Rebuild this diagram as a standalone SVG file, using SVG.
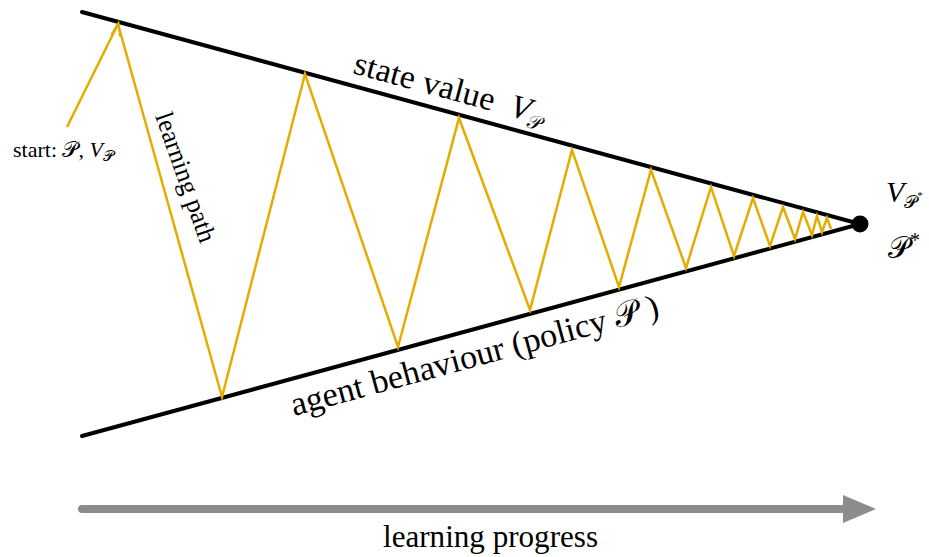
<svg xmlns="http://www.w3.org/2000/svg" width="929" height="557" viewBox="0 0 929 557">
<style>
text{font-family:"Liberation Serif","DejaVu Serif",serif;fill:#000}
.bound{stroke:#000;stroke-width:4;stroke-linecap:round;fill:none}
.path{stroke:#E5AC00;stroke-width:2.5;fill:none;stroke-linejoin:miter}
</style>
<rect width="929" height="557" fill="#fff"/>
<g id="connectors">
<line class="bound" x1="82" y1="12" x2="860" y2="224"/>
<line class="bound" x1="82" y1="436" x2="860" y2="224"/>
<polyline class="path" points="118,24 222,397 305,74 398,347 459,118 530,310 572,150 619,287 651,170 686,268 711,187 734,256 753,198 770,246 783,207 795,239 803,212 812,235 817,216 822,232 827,218 831,229"/>
<line x1="67" y1="127" x2="118" y2="24" stroke="#E5AC00" stroke-width="2.5"/>
<path d="M111.5,34.5 L118.5,23 L120,36.5" fill="none" stroke="#E5AC00" stroke-width="2"/>
<line x1="82" y1="509" x2="848" y2="509" stroke="#8C8C8C" stroke-width="8" stroke-linecap="round"/>
<polygon points="843,495 876,509 843,523" fill="#8C8C8C"/>
</g>
<g id="optimum">
<circle cx="860" cy="224" r="8.5" fill="#000"/>
<text x="886" y="202" font-size="30"><tspan font-style="italic">V</tspan><tspan font-size="18" dy="6">𝒫</tspan><tspan font-size="11" dy="-9">*</tspan></text>
<text x="888" y="258" font-size="30">𝒫<tspan font-size="20" dy="-11">*</tspan></text>
</g>
<g id="start">
<text x="13" y="157" font-size="22">start: 𝒫, <tspan font-style="italic">V</tspan><tspan font-size="15" dy="4">𝒫</tspan></text>
</g>
<g id="learning-path">
<text font-size="26" transform="translate(155,116) rotate(70.5)" textLength="136" lengthAdjust="spacingAndGlyphs">learning path</text>
</g>
<g id="state-value" transform="translate(352,73) rotate(15.2)">
<text x="0" y="0" font-size="33" textLength="145" lengthAdjust="spacingAndGlyphs">state value</text>
<text x="162" y="0" font-size="33"><tspan font-style="italic">V</tspan><tspan font-size="20" dy="6">𝒫</tspan></text>
</g>
<g id="agent-behaviour">
<text font-size="34" transform="translate(294,416) rotate(-15.2)" textLength="380" lengthAdjust="spacingAndGlyphs">agent behaviour (policy 𝒫 )</text>
</g>
<g id="progress">
<text x="383" y="547" font-size="31" textLength="215" lengthAdjust="spacingAndGlyphs">learning progress</text>
</g>
</svg>
